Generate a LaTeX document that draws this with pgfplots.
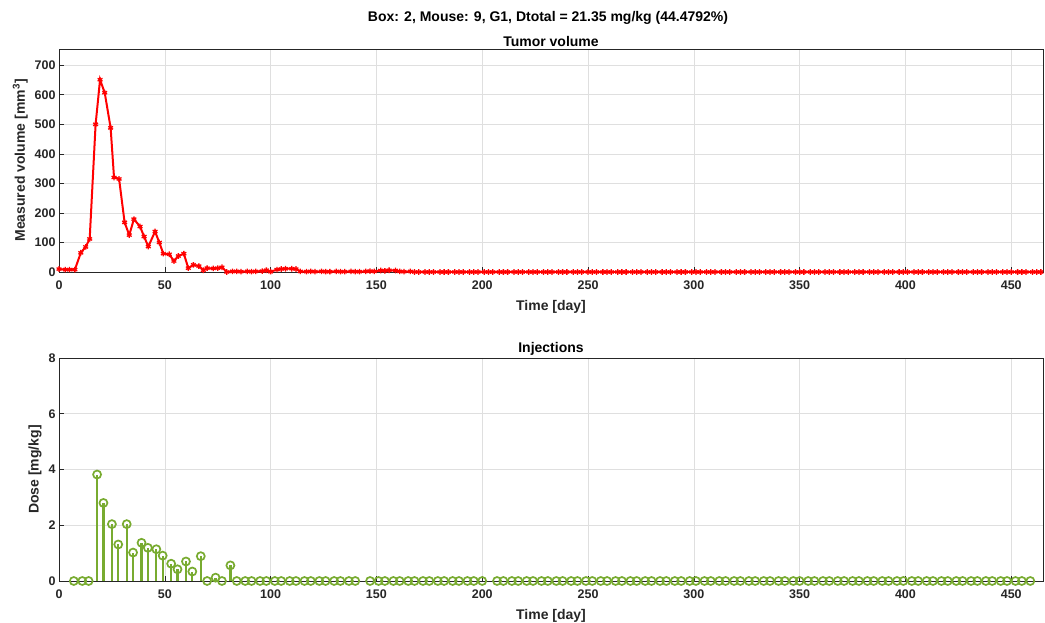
\documentclass[border=0pt]{standalone}
\usepackage{fontspec}
\setmainfont{Liberation Sans}
\usepackage{pgfplots}
\usepackage{pgfplotstable}
\pgfplotsset{compat=1.18}
\definecolor{mlgreen}{rgb}{0.47,0.67,0.19}
\definecolor{axgray}{rgb}{0.15,0.15,0.15}

% tumour volume (day, mm^3), read off the figure
\pgfplotstableread{
day vol
0 10
3 8
5 8
7.5 8
10.3 65
12.6 85
14.5 112
17.3 500
19.4 651
21.6 607
24.4 488
26 320
28.4 315
31 168
33.2 125
35.4 179
38.3 154
40.2 120
42.2 86
45.4 137
47.4 100
49.3 62
52.1 60
54.3 37
56.4 54
59 62
61.1 13
63.5 24
66.1 20
68.2 6
70 13
72.9 12
75 13
77 16
79.3 0
82 2
84 2
86 1
89 2
91 1
93 2
96 3
98 6
100 1
103 8
105 10
107 11
110 11
112 10
114 2
117 1
119 2
121 1
124 2
126 1
128 1
131 2
133 1
135 1
138 2
140 1
142 1
145 2
147 3
149 2
152 5
154 4
156 6
159 5
161 2
163 1
166 2
168 0
170 0
173 0
175 0
177 0
180 0
182 0
184 0
187 0
189 0
191 0
194 0
196 0
198 0
201 0
203 0
205 0
208 0
210 0
212 0
215 0
217 0
219 0
222 0
224 0
226 0
229 0
231 0
233 0
236 0
238 0
240 0
243 0
245 0
247 0
250 0
252 0
254 0
257 0
259 0
261 0
264 0
266 0
268 0
271 0
273 0
275 0
278 0
280 0
282 0
285 0
287 0
289 0
292 0
294 0
296 0
299 0
301 0
303 0
306 0
308 0
310 0
313 0
315 0
317 0
320 0
322 0
324 0
327 0
329 0
331 0
334 0
336 0
338 0
341 0
343 0
345 0
348 0
350 0
352 0
355 0
357 0
359 0
362 0
364 0
366 0
369 0
371 0
373 0
376 0
378 0
380 0
383 0
385 0
387 0
390 0
392 0
394 0
397 0
399 0
401 0
404 0
406 0
408 0
411 0
413 0
415 0
418 0
420 0
422 0
425 0
427 0
429 0
432 0
434 0
436 0
439 0
441 0
443 0
446 0
448 0
450 0
453 0
455 0
457 0
460 0
462 0
464 0
}\tumor

% injections (day, mg/kg)
\pgfplotstableread{
day dose
7 0
11 0
14 0
18 3.82
21 2.80
25 2.04
28 1.31
32 2.04
35 1.02
39 1.37
42 1.19
46 1.14
49 0.91
53 0.62
56 0.42
60 0.70
63 0.34
67 0.89
70 0
74 0.12
77 0
81 0.56
84 0
88 0
91 0
95 0
98 0
102 0
105 0
109 0
112 0
116 0
119 0
123 0
126 0
130 0
133 0
137 0
140 0
147 0
151 0
154 0
158 0
161 0
165 0
168 0
172 0
175 0
179 0
182 0
186 0
189 0
193 0
196 0
200 0
207 0
210 0
214 0
217 0
221 0
224 0
228 0
231 0
235 0
238 0
242 0
245 0
249 0
252 0
256 0
259 0
263 0
266 0
270 0
273 0
277 0
280 0
284 0
287 0
291 0
294 0
298 0
301 0
305 0
308 0
312 0
315 0
319 0
322 0
326 0
329 0
333 0
336 0
340 0
343 0
347 0
350 0
354 0
357 0
361 0
364 0
368 0
371 0
375 0
378 0
382 0
385 0
389 0
392 0
396 0
399 0
403 0
406 0
410 0
413 0
417 0
420 0
424 0
427 0
431 0
434 0
438 0
441 0
445 0
448 0
452 0
455 0
459 0
}\dose

\pgfplotsset{mlstyle/.style={
  scale only axis, width=984pt, height=223pt,
  xmin=0, xmax=465, xtick={0,50,...,450},
  grid=major, major grid style={gray!25, line width=0.6pt},
  axis line style={axgray, line width=0.6pt},
  tick style={axgray, line width=0.6pt}, major tick length=5pt,
  tick align=inside, tick pos=left,
  tick label style={font=\bfseries\fontsize{12.5}{14}\selectfont, text=axgray},
  xticklabel style={yshift=-5pt},
  label style={font=\bfseries\fontsize{14}{16}\selectfont, text=axgray},
  xlabel style={yshift=-4pt},
  title style={font=\bfseries\fontsize{14}{16}\selectfont, text=black, yshift=-7pt},
  /pgf/number format/assume math mode=true,
  clip=false,
}}

\begin{document}
\begin{tikzpicture}[x=1pt,y=1pt]
\path[use as bounding box] (0,0) rectangle (1045,623);
\begin{axis}[mlstyle, at={(59pt,351pt)}, anchor=south west,
  ymin=0, ymax=755, ytick={0,100,...,700},
  title={Tumor volume}, xlabel={Time [day]},
  ylabel={Measured volume [mm\textsuperscript{3}]}]
\addplot[red, line width=2pt, mark=asterisk, mark size=2.8pt,
  mark options={line width=1.3pt}] table[x=day,y=vol] {\tumor};
\end{axis}
\begin{axis}[mlstyle, at={(59pt,42pt)}, anchor=south west,
  ymin=0, ymax=8, ytick={0,2,...,8},
  title={Injections}, xlabel={Time [day]}, ylabel={Dose [mg/kg]}]
\addplot[ycomb, mlgreen, line width=2.2pt, mark=o, mark size=4pt,
  mark options={line width=1.7pt}] table[x=day,y=dose] {\dose};
\end{axis}
\node[font=\bfseries\fontsize{14}{16}\selectfont] at (548,605)
  {Box: 2, Mouse: 9, G1, Dtotal = 21.35 mg/kg (44.4792\%)};
\end{tikzpicture}
\end{document}
